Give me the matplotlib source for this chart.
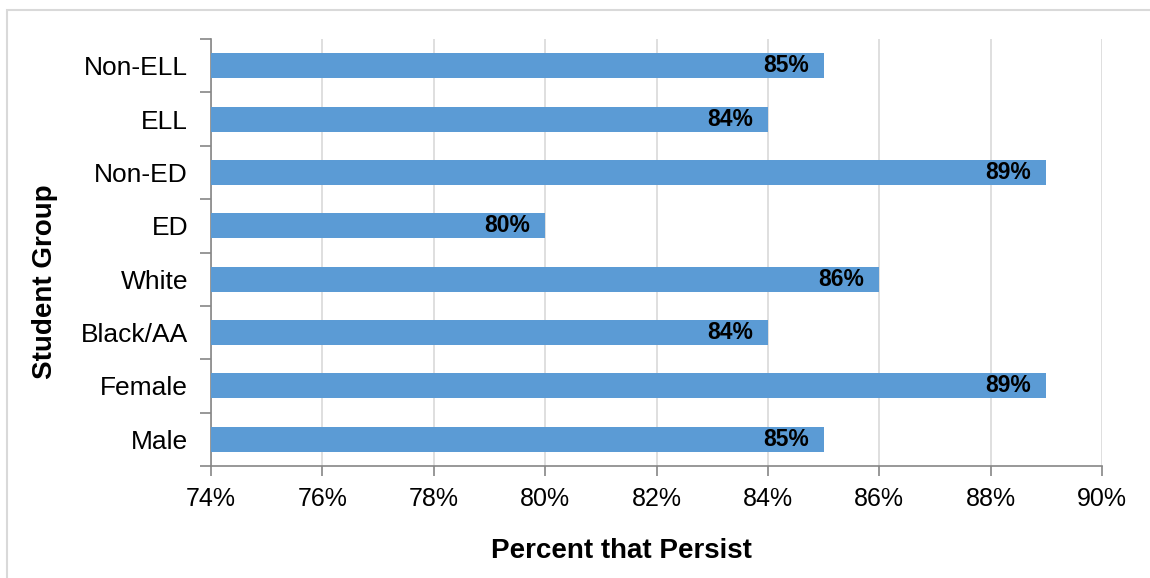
import numpy as np
import matplotlib.pyplot as plt
from matplotlib.patches import Rectangle
from matplotlib.ticker import FixedLocator, FuncFormatter

plt.rcParams['font.family'] = ['Liberation Sans', 'DejaVu Sans']

groups = ["Male", "Female", "Black/AA", "White", "ED", "Non-ED", "ELL", "Non-ELL"]
persist = [85, 89, 84, 86, 80, 89, 84, 85]

BAR_COLOR = "#5B9BD5"
AXIS_COLOR = "#868686"
GRID_COLOR = "#D9D9D9"

fig = plt.figure(figsize=(11.5, 5.78), dpi=100)
ax = fig.add_axes([211 / 1150, 1 - 466 / 578, (1102 - 211) / 1150, (466 - 39) / 578])

# outer frame of the chart area
fig.patches.append(Rectangle((7 / 1150, -0.05), 1.1, 1 - 10 / 578 + 0.05,
                             transform=fig.transFigure, fill=False,
                             edgecolor="#D9D9D9", linewidth=1.5))

y = np.arange(len(groups))
ax.barh(y, persist, height=0.47, color=BAR_COLOR, zorder=3)

for yi, v in zip(y, persist):
    ax.text(v - 0.27, yi, f"{v}%", ha="right", va="center",
            fontsize=16.5, fontweight="bold", color="black", zorder=4)

ax.set_xlim(74, 90)
ax.set_ylim(-0.5, len(groups) - 0.5)
ax.set_xticks(np.arange(74, 91, 2))
ax.xaxis.set_major_formatter(FuncFormatter(lambda v, p: f"{v:.0f}%"))
ax.grid(axis="x", color=GRID_COLOR, linewidth=1.2, zorder=0)

ax.set_yticks(y)
ax.set_yticklabels(groups)
ax.yaxis.set_minor_locator(FixedLocator(np.arange(-0.5, len(groups), 1)))
ax.tick_params(axis="y", which="major", length=0, pad=16.5, labelsize=19)
ax.tick_params(axis="y", which="minor", length=8, color=AXIS_COLOR, width=1.2)
ax.tick_params(axis="x", length=7, color=AXIS_COLOR, width=1.2, pad=8, labelsize=18)

for side in ["top", "right"]:
    ax.spines[side].set_visible(False)
for side in ["left", "bottom"]:
    ax.spines[side].set_color(AXIS_COLOR)
    ax.spines[side].set_linewidth(1.2)

fig.text(621 / 1150, 1 - 551 / 578, "Percent that Persist", ha="center", va="center",
         fontsize=20, fontweight="bold")
fig.text(45 / 1150, 1 - 282 / 578, "Student Group", ha="center", va="center",
         rotation=90, fontsize=20, fontweight="bold")

fig.savefig("out.png", dpi=100)
